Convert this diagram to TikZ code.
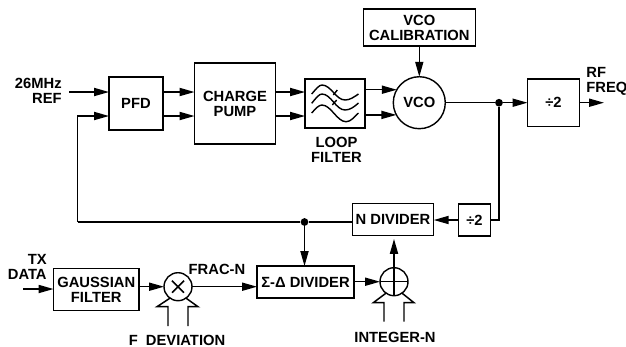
\documentclass[tikz,border=0pt]{standalone}
\usepackage{fontspec}
\setmainfont{Liberation Sans}
\usetikzlibrary{arrows.meta}
\tikzset{
  blockbox/.style={draw, rectangle, line width=0.8pt, inner sep=0pt, outer sep=0pt, align=center},
  mixer/.style={draw, circle, line width=0.8pt, minimum size=0.56cm, inner sep=0pt, outer sep=0pt},
  sig/.style={-{Triangle[length=8.5pt,width=4.6pt]}, line width=0.85pt},
  wire/.style={line width=0.85pt},
  wave/.style={line width=0.8pt},
  tag/.style={inner sep=0pt, align=center},
  dot/.style={circle, fill=black, minimum size=4.4pt, inner sep=0pt}
}
\begin{document}
\begin{tikzpicture}[x=0.02cm, y=-0.02cm, every node/.style={font=\fontsize{8.4}{8.6}\selectfont\bfseries}]
  \useasboundingbox (0,0) rectangle (626,346);
  % blocks
  \node[blockbox, minimum width=1.08cm, minimum height=1.06cm] (pfd) at (136,103.5) {PFD};
  \node[blockbox, minimum width=1.62cm, minimum height=1.62cm] (pump) at (235,103.5) {CHARGE\\PUMP};
  \node[blockbox, minimum width=1.2cm, minimum height=0.98cm] (filter) at (335,103.5) {};
  \node[blockbox, circle, minimum size=1.04cm] (vco) at (419.3,102.7) {VCO};
  \node[blockbox, minimum width=2.24cm, minimum height=0.74cm] (cal) at (419.3,27.5) {VCO\\CALIBRATION};
  \node[blockbox, minimum width=1.04cm, minimum height=0.95cm] (divrf) at (553.5,102.7) {÷2};
  \node[blockbox, minimum width=1.63cm, minimum height=0.65cm] (ndiv) at (393,219.5) {N DIVIDER};
  \node[blockbox, minimum width=0.63cm, minimum height=0.64cm] (divfb) at (474.5,220) {÷2};
  \node[blockbox, minimum width=1.94cm, minimum height=0.64cm] (sdm) at (305.5,282) {Σ-Δ DIVIDER};
  \node[blockbox, minimum width=1.71cm, minimum height=0.85cm] (gauss) at (96.25,289.5) {GAUSSIAN\\FILTER};
  \node[mixer] (mult) at (178,286.7) {};
  \node[mixer] (adder) at (394,281.7) {};
  \draw[wire] (172,280.7) -- (184,292.7) (172,292.7) -- (184,280.7);
  \draw[wire] (adder.north) -- (adder.south) (adder.west) -- (adder.east);
  % filter curves
  \draw[wave] (311.7,94) .. controls (316,89) and (319,85) .. (322,85) .. controls (331,85) and (336,100) .. (345,100) .. controls (350,100) and (354,97) .. (358.5,94);
  \draw[wave] (311.7,103.3) .. controls (316,98) and (319,94) .. (322,94) .. controls (331,94) and (336,110) .. (345,110) .. controls (350,110) and (354,107) .. (358.5,103);
  \draw[wave] (311.7,113) .. controls (316,108) and (319,105) .. (322,105) .. controls (331,105) and (337,121.7) .. (346,121.7) .. controls (351,121.7) and (354,117) .. (358.5,113);
  \draw[wave] (333.3,95) -- (337.3,90);
  \draw[wave] (332.3,105) -- (336.7,100);
  % labels
  \node[tag, anchor=east] at (62,93) {\begin{tabular}{@{}r@{}}26MHz\\REF\end{tabular}};
  \node[tag] at (336.5,149.5) {LOOP\\FILTER};
  \node[tag, anchor=west] at (586,82) {\begin{tabular}{@{}l@{}}RF\\FREQ\end{tabular}};
  \node[tag, anchor=east] at (47,269) {\begin{tabular}{@{}r@{}}TX\\DATA\end{tabular}};
  \node[tag] at (217,269) {FRAC-N};
  \node[tag] at (177,340) {F\ \ DEVIATION};
  \node[tag] at (395,337) {INTEGER-N};
  % free ends and rows
  \coordinate (upper) at (0,92);
  \coordinate (lower) at (0,116);
  \coordinate (refin) at (69,92);
  \coordinate (fbcorner) at (77.5,222);
  \coordinate (rfout) at (604,102.7);
  \coordinate (txin) at (23,289);
  \node[dot] (tap) at (499,102.7) {};
  \node[dot] (fbtap) at (304.5,222) {};
  % forward path
  \draw[sig] (refin) -- (pfd.west |- upper);
  \draw[sig] (pfd.east |- upper) -- (pump.west |- upper);
  \draw[sig] (pfd.east |- lower) -- (pump.west |- lower);
  \draw[sig] (pump.east |- upper) -- (filter.west |- upper);
  \draw[sig] (pump.east |- lower) -- (filter.west |- lower);
  \draw[sig] (filter.east |- vco.150.8) -- (vco.150.8);
  \draw[sig] (filter.east |- vco.208.2) -- (vco.208.2);
  \draw[sig] (cal) -- (vco);
  \draw[wire] (vco.east) -- (tap);
  \draw[sig] (tap) -- (divrf.west |- tap);
  \draw[sig] (divrf.east |- rfout) -- (rfout);
  % feedback path
  \draw[wire] (tap) |- (divfb.east);
  \draw[sig] (divfb.west) -- (ndiv.east |- divfb.west);
  \draw[wire] (ndiv.west |- fbtap) -- (fbtap);
  \draw[wire] (fbtap) -- (fbcorner);
  \draw[sig] (fbcorner) |- (pfd.west |- lower);
  \draw[sig] (fbtap) -- (sdm.north -| fbtap);
  % modulation path
  \draw[sig] (txin) -- (gauss.west |- txin);
  \draw[sig] (gauss.east |- mult.west) -- (mult.west);
  \draw[sig] (mult.east) -- (sdm.west |- mult.east);
  \draw[sig] (sdm.east |- adder.west) -- (adder.west);
  \draw[sig] (adder.north) -- ([yshift=-1.8pt]ndiv.south -| adder.north);
  % hollow buses
  \draw[wire] (168,326) -- (168,306.7) -- (157,306.7) -- (mult.235);
  \draw[wire] (188,326) -- (188,306.7) -- (198,306.7) -- (mult.305);
  \draw[wire] (384,321.7) -- (384,302.7) -- (373.3,302.7) -- (adder.235);
  \draw[wire] (404,321.7) -- (404,302.7) -- (414,302.7) -- (adder.305);
\end{tikzpicture}
\end{document}
